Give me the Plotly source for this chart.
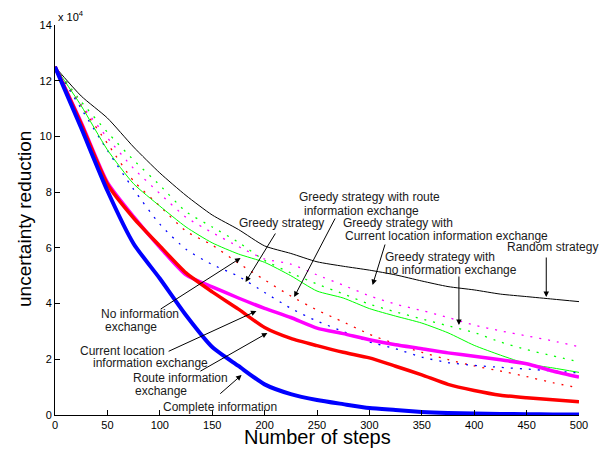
import plotly.graph_objects as go

# ---- data (uncertainty reduction, in units of 1e4) ----
steps = [0, 25, 50, 75, 100, 125, 150, 175, 200, 225, 250,
         275, 300, 325, 350, 375, 400, 425, 450, 475, 500]

random_strategy = [12.5, 11.45, 10.66, 9.62, 8.69, 7.88, 7.18, 6.66, 6.07, 5.8, 5.5,
                   5.34, 5.2, 5.03, 4.81, 4.61, 4.49, 4.34, 4.25, 4.16, 4.07]
greedy_no_info = [12.5, 11.25, 10.15, 9.15, 8.25, 7.3, 6.75, 6.2, 5.55, 5.1, 4.7,
                  4.35, 3.98, 3.7, 3.45, 3.2, 2.96, 2.62, 2.35, 2.12, 1.91]
greedy_current_loc = [12.5, 11.15, 9.95, 8.85, 7.95, 7.1, 6.55, 6.05, 5.6, 5.42, 5.03,
                      4.66, 4.28, 3.98, 3.75, 3.5, 3.23, 3.02, 2.84, 2.66, 2.45]
greedy_route = [12.5, 11.1, 9.75, 8.4, 7.5, 6.6, 6.1, 5.45, 4.85, 4.27, 3.77,
                3.34, 2.9, 2.55, 2.25, 1.99, 1.76, 1.58, 1.38, 1.16, 0.97]
greedy_strategy = [12.5, 11.0, 9.5, 8.1, 6.85, 5.95, 5.4, 4.98, 4.4, 3.83, 3.37,
                   3.0, 2.62, 2.38, 2.08, 1.88, 1.78, 1.71, 1.65, 1.58, 1.51]
no_info = [12.5, 11.1, 9.52, 8.3, 7.5, 6.75, 6.18, 5.78, 5.48, 5.0, 4.45,
           4.2, 3.82, 3.55, 3.3, 2.95, 2.5, 2.15, 1.84, 1.69, 1.53]
current_loc = [12.5, 10.5, 8.35, 7.12, 6.02, 5.03, 4.6, 4.2, 3.83, 3.5, 3.12,
               2.92, 2.7, 2.52, 2.38, 2.23, 2.11, 1.98, 1.84, 1.58, 1.36]
route_info = [12.5, 10.45, 8.29, 7.07, 6.07, 5.1, 4.42, 3.8, 3.14, 2.75, 2.49,
              2.25, 2.05, 1.75, 1.44, 1.1, 0.88, 0.71, 0.62, 0.55, 0.48]
complete_info = [12.5, 10.3, 8.05, 6.15, 4.9, 3.58, 2.44, 1.76, 1.1, 0.75, 0.54,
                 0.39, 0.25, 0.18, 0.11, 0.07, 0.05, 0.04, 0.03, 0.02, 0.02]

x_ticks = [0, 50, 100, 150, 200, 250, 300, 350, 400, 450, 500]
y_ticks = [0, 2, 4, 6, 8, 10, 12, 14]

FONT = "Liberation Sans, Arial, Helvetica, sans-serif"
DOT = "2px,7px"

series = [
    (random_strategy, "black", 1, "solid"),
    (greedy_no_info, "#00ff00", 1.3, DOT),
    (greedy_current_loc, "#ff00ff", 1.3, DOT),
    (greedy_route, "#ff0000", 1.3, DOT),
    (greedy_strategy, "#0000ff", 1.3, DOT),
    (no_info, "#00ff00", 1, "solid"),
    (current_loc, "#ff00ff", 3.5, "solid"),
    (route_info, "#ff0000", 3.5, "solid"),
    (complete_info, "#0000ff", 4, "solid"),
]

fig = go.Figure()
for vals, col, w, dash in series:
    fig.add_trace(go.Scatter(x=steps, y=vals, mode="lines",
                             line=dict(color=col, width=w, dash=dash,
                                       shape="spline", smoothing=0.6),
                             showlegend=False, hoverinfo="skip"))

# plot geometry in pixels (for placing the annotation labels)
L, R, T, B = 55, 583, 25, 415
def dx(px):
    return (px - L) * 500.0 / (R - L)
def dy(py):
    return (B - py) * 14.0 / (B - T)

annotations = []
# text labels: (text, px, py, anchor)
labels = [
    ("Greedy strategy with route", 372, 197, "center"),
    ("information exchange", 364, 210.5, "center"),
    ("Greedy strategy", 283, 223, "center"),
    ("Greedy strategy with", 343, 223, "left"),
    ("Current location information exchange", 345, 236, "left"),
    ("Greedy strategy with", 386, 257, "left"),
    ("no information exchange", 386, 269.5, "left"),
    ("Random strategy", 508, 247, "left"),
    ("No information", 141, 314, "center"),
    ("exchange", 132, 327, "center"),
    ("Current location", 123, 351, "center"),
    ("information exchange", 151, 363, "center"),
    ("Route information", 132, 377.5, "left"),
    ("exchange", 134, 390.5, "left"),
    ("Complete information", 162, 407, "left"),
]
for txt, px, py, anc in labels:
    annotations.append(dict(x=dx(px), y=dy(py), xref="x", yref="y", text=txt,
                            showarrow=False, xanchor=anc, yanchor="middle",
                            font=dict(family=FONT, size=12, color="#1a1a1a")))

# arrows: (tail px, tail py, tip px, tip py)
arrows = [
    (338, 217, 296, 297),
    (278, 232, 247, 282),
    (388, 243, 375, 285),
    (462, 275, 462, 325),
    (550, 256, 550, 297),
    (160, 310, 242, 258),
    (168, 352, 258, 311),
    (200, 372, 269, 333),
    (220, 395, 243, 375),
]
for tx, ty, hx, hy in arrows:
    annotations.append(dict(x=dx(hx), y=dy(hy), ax=dx(tx), ay=dy(ty),
                            xref="x", yref="y", axref="x", ayref="y",
                            text="", showarrow=True, arrowhead=2, arrowsize=1.1,
                            arrowwidth=1, arrowcolor="black", standoff=0))

# axis titles and exponent
annotations.append(dict(x=0.501, y=-0.0885, xref="paper", yref="paper",
                        text="Number of steps", showarrow=False,
                        xanchor="center", yanchor="bottom",
                        font=dict(family=FONT, size=20, color="black")))
annotations.append(dict(x=-0.057, y=0.503, xref="paper", yref="paper",
                        text="uncertainty reduction", showarrow=False,
                        textangle=-90, xanchor="center", yanchor="middle",
                        font=dict(family=FONT, size=19, color="black")))
annotations.append(dict(x=0.002, y=1.023, xref="paper", yref="paper",
                        text="x 10<sup>4</sup>", showarrow=False,
                        xanchor="left", yanchor="middle",
                        font=dict(family=FONT, size=11, color="black")))

fig.update_layout(
    width=600, height=450,
    margin=dict(l=L, r=600 - R, t=T, b=450 - B),
    paper_bgcolor="white", plot_bgcolor="white",
    annotations=annotations,
    font=dict(family=FONT, size=11, color="black"),
)
fig.update_xaxes(range=[0, 500], tickvals=x_ticks, ticks="inside", ticklen=5,
                 tickcolor="black", showline=True, linecolor="black", linewidth=1,
                 showgrid=False, zeroline=False, mirror=False,
                 tickfont=dict(family=FONT, size=11, color="black"))
fig.update_yaxes(range=[0, 14], tickvals=y_ticks, ticks="inside", ticklen=5,
                 tickcolor="black", showline=True, linecolor="black", linewidth=1,
                 showgrid=False, zeroline=False, mirror=False,
                 tickfont=dict(family=FONT, size=11, color="black"))

fig.write_html("out.html", config={"displayModeBar": False},
               post_script="document.body.style.margin='0';document.body.style.overflow='hidden';")
